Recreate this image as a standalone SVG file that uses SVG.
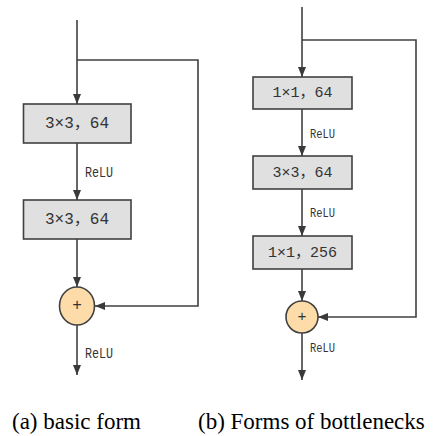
<svg xmlns="http://www.w3.org/2000/svg" width="444" height="436" viewBox="0 0 444 436">
<defs>
<marker id="arr" markerUnits="userSpaceOnUse" markerWidth="10" markerHeight="8" refX="10" refY="4" orient="auto">
<path d="M0,0 L10,4 L0,8 z" fill="#3a3a3a"/>
</marker>
<style>
.ln{fill:none;stroke:#404040;stroke-width:1.6}
.box{fill:#e0e0e0;stroke:#404040;stroke-width:1.6}
.sum{fill:#fddcaa;stroke:#404040;stroke-width:1.6}
.bt{font-family:"Liberation Mono","Noto Sans CJK SC",monospace;fill:#333;text-anchor:middle;dominant-baseline:central}
.relu{font-family:"Liberation Mono",monospace;fill:#333}
.cap{font-family:"Liberation Serif",serif;fill:#000}
</style>
</defs>
<rect width="444" height="436" fill="#fff"/>
<g id="connectors">
<path class="ln" d="M77,20 V104" marker-end="url(#arr)"/>
<path class="ln" d="M77,60 H198 V306 H95" marker-end="url(#arr)"/>
<path class="ln" d="M77,143 V200" marker-end="url(#arr)"/>
<path class="ln" d="M77,239 V287" marker-end="url(#arr)"/>
<path class="ln" d="M77,325 V375" marker-end="url(#arr)"/>
<path class="ln" d="M302,7 V77" marker-end="url(#arr)"/>
<path class="ln" d="M302,40 H416 V317 H318" marker-end="url(#arr)"/>
<path class="ln" d="M302,109 V156" marker-end="url(#arr)"/>
<path class="ln" d="M302,189 V236" marker-end="url(#arr)"/>
<path class="ln" d="M302,269 V301" marker-end="url(#arr)"/>
<path class="ln" d="M302,333 V380" marker-end="url(#arr)"/>
</g>
<g id="a-conv1">
<rect class="box" x="23.5" y="104" width="107.5" height="39"/>
<text class="bt" x="77" y="124" font-size="16">3×3，64</text>
</g>
<g id="a-relu1"><text class="relu" x="85" y="177" font-size="14" textLength="28" lengthAdjust="spacingAndGlyphs">ReLU</text></g>
<g id="a-conv2">
<rect class="box" x="23.5" y="200" width="107.5" height="39"/>
<text class="bt" x="77" y="220" font-size="16">3×3，64</text>
</g>
<g id="a-sum">
<ellipse class="sum" cx="77" cy="306" rx="17.5" ry="19"/>
<text class="bt" x="77" y="306" font-size="16">+</text>
</g>
<g id="a-relu2"><text class="relu" x="85" y="358" font-size="14" textLength="28" lengthAdjust="spacingAndGlyphs">ReLU</text></g>
<g id="b-conv1">
<rect class="box" x="253" y="77" width="99" height="32"/>
<text class="bt" x="302.5" y="93.5" font-size="15">1×1，64</text>
</g>
<g id="b-relu1"><text class="relu" x="310" y="138" font-size="13" textLength="25" lengthAdjust="spacingAndGlyphs">ReLU</text></g>
<g id="b-conv2">
<rect class="box" x="253" y="156" width="99" height="33"/>
<text class="bt" x="302.5" y="173" font-size="15">3×3，64</text>
</g>
<g id="b-relu2"><text class="relu" x="310" y="217" font-size="13" textLength="25" lengthAdjust="spacingAndGlyphs">ReLU</text></g>
<g id="b-conv3">
<rect class="box" x="253" y="236" width="99" height="33"/>
<text class="bt" x="302.5" y="253" font-size="15">1×1，256</text>
</g>
<g id="b-sum">
<circle class="sum" cx="302" cy="317" r="16"/>
<text class="bt" x="302" y="317" font-size="15">+</text>
</g>
<g id="b-relu3"><text class="relu" x="310" y="352" font-size="13" textLength="25" lengthAdjust="spacingAndGlyphs">ReLU</text></g>
<g id="captions">
<text class="cap" x="12" y="429" font-size="23">(a) basic form</text>
<text class="cap" x="198" y="429" font-size="23">(b) Forms of bottlenecks</text>
</g>
</svg>
